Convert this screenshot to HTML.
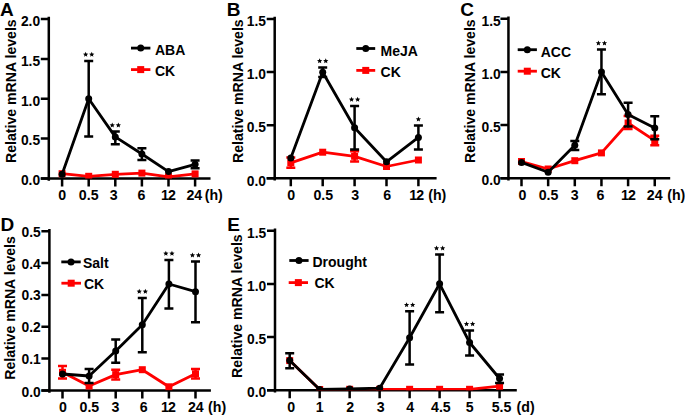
<!DOCTYPE html>
<html><head><meta charset="utf-8"><style>
html,body{margin:0;padding:0;background:#fff;width:685px;height:417px;overflow:hidden}
svg{display:block}
text{font-family:"Liberation Sans", sans-serif;fill:#000}
.t{font-size:14.2px;font-weight:bold}
.ty{font-size:13.8px;font-weight:bold}
.yt{font-size:14.1px;font-weight:bold}
.L{font-size:19px;font-weight:bold}
.lg{font-size:14px;font-weight:bold}
.st{font-size:14px;letter-spacing:0.65px}
</style></head><body>
<svg width="685" height="417" viewBox="0 0 685 417">
<defs><clipPath id="c0"><rect x="48.8" y="0" width="171.7" height="178.4"/></clipPath><clipPath id="c1"><rect x="274.7" y="0" width="171.9" height="178.3"/></clipPath><clipPath id="c2"><rect x="508.45" y="0" width="171.75" height="178.25"/></clipPath><clipPath id="c3"><rect x="49.4" y="0" width="171.5" height="390.45"/></clipPath><clipPath id="c4"><rect x="275" y="0" width="251.8" height="390.25"/></clipPath></defs>
<rect width="685" height="417" fill="#fff"/>
<g><path d="M48.8 16.85V180.65M40.8 178.4H210.5" stroke="#000" stroke-width="2.5" fill="none"/>
<path d="M40.8 178.4H48.8M40.8 138.57H48.8M40.8 98.75H48.8M40.8 58.92H48.8M40.8 19.1H48.8" stroke="#000" stroke-width="2.5"/>
<path d="M62.1 178.4V186.4M88.7 178.4V186.4M115.3 178.4V186.4M141.9 178.4V186.4M168.5 178.4V186.4M195.1 178.4V186.4" stroke="#000" stroke-width="2.5"/>
<text x="40.1" y="185.3" text-anchor="end" class="ty">0.0</text>
<text x="40.1" y="145.47" text-anchor="end" class="ty">0.5</text>
<text x="40.1" y="105.65" text-anchor="end" class="ty">1.0</text>
<text x="40.1" y="65.83" text-anchor="end" class="ty">1.5</text>
<text x="40.1" y="26" text-anchor="end" class="ty">2.0</text>
<text transform="translate(62.1 200.35) scale(1 1.05)" text-anchor="middle" class="t">0</text>
<text transform="translate(88.7 199.65) scale(1 1.05)" text-anchor="middle" class="t">0.5</text>
<text transform="translate(113.7 199.65) scale(1 1.05)" text-anchor="middle" class="t">3</text>
<text transform="translate(141.5 199.65) scale(1 1.05)" text-anchor="middle" class="t">6</text>
<text transform="translate(168.1 199.65) scale(1 1.05)" text-anchor="middle" class="t" letter-spacing="-0.9">12</text>
<text transform="translate(194.3 199.65) scale(1 1.05)" text-anchor="middle" class="t">24</text>
<text x="204.7" y="199.65" class="t">(h)</text>
<text transform="translate(16.4 91.15) rotate(-90)" text-anchor="middle" class="yt">Relative mRNA levels</text>
<text x="0" y="16.2" class="L">A</text>
<path d="M131 48.1H150.4" stroke="#000" stroke-width="2.8"/><circle cx="140.7" cy="48.1" r="3.5"/>
<path d="M131 69.6H150.4" stroke="#ff0000" stroke-width="2.8"/><rect x="137.2" y="66.1" width="7" height="7" fill="#ff0000"/>
<text x="155" y="55" class="lg">ABA</text>
<text x="155" y="76.4" class="lg">CK</text>
<g clip-path="url(#c0)"><polyline points="62.1,173.7 88.7,176.3 115.3,174.3 141.9,173.1 168.5,176.8 195.1,173.9" fill="none" stroke="#ff0000" stroke-width="2.8" stroke-linejoin="round"/><rect x="58.6" y="170.2" width="7" height="7" fill="#ff0000"/><rect x="85.2" y="172.8" width="7" height="7" fill="#ff0000"/><rect x="111.8" y="170.8" width="7" height="7" fill="#ff0000"/><rect x="138.4" y="169.6" width="7" height="7" fill="#ff0000"/><rect x="165" y="173.3" width="7" height="7" fill="#ff0000"/><rect x="191.6" y="170.4" width="7" height="7" fill="#ff0000"/><path d="M88.7 60.9V136.5M84.2 60.9h9M84.2 136.5h9M115.3 131.6V144.2M110.8 131.6h9M110.8 144.2h9M141.9 148.3V160M137.4 148.3h9M137.4 160h9M195.1 160.6V168.3M190.6 160.6h9M190.6 168.3h9" stroke="#000" stroke-width="2.5"/><polyline points="62.1,174.3 88.7,98.7 115.3,136.9 141.9,154 168.5,171.6 195.1,164.3" fill="none" stroke="#000" stroke-width="2.8" stroke-linejoin="round"/><circle cx="62.1" cy="174.3" r="3.5"/><circle cx="88.7" cy="98.7" r="3.5"/><circle cx="115.3" cy="136.9" r="3.5"/><circle cx="141.9" cy="154" r="3.5"/><circle cx="168.5" cy="171.6" r="3.5"/><circle cx="195.1" cy="164.3" r="3.5"/></g>
<path d="M85.65 51.85L86.38 53.59L88.27 53.75L86.84 54.99L87.27 56.82L85.65 55.85L84.03 56.82L84.46 54.99L83.03 53.75L84.92 53.59ZM91.75 51.85L92.48 53.59L94.37 53.75L92.94 54.99L93.37 56.82L91.75 55.85L90.13 56.82L90.56 54.99L89.13 53.75L91.02 53.59Z"/>
<path d="M112.25 122.55L112.98 124.29L114.87 124.45L113.44 125.69L113.87 127.52L112.25 126.55L110.63 127.52L111.06 125.69L109.63 124.45L111.52 124.29ZM118.35 122.55L119.08 124.29L120.97 124.45L119.54 125.69L119.97 127.52L118.35 126.55L116.73 127.52L117.16 125.69L115.73 124.45L117.62 124.29Z"/></g>
<g><path d="M274.7 16.75V180.55M266.7 178.3H436.6" stroke="#000" stroke-width="2.5" fill="none"/>
<path d="M266.7 178.3H274.7M266.7 125.2H274.7M266.7 72.1H274.7M266.7 19H274.7" stroke="#000" stroke-width="2.5"/>
<path d="M290.8 178.3V186.3M322.7 178.3V186.3M354.6 178.3V186.3M386.5 178.3V186.3M418.4 178.3V186.3" stroke="#000" stroke-width="2.5"/>
<text x="266" y="185.5" text-anchor="end" class="ty">0.0</text>
<text x="266" y="132.4" text-anchor="end" class="ty">0.5</text>
<text x="266" y="79.3" text-anchor="end" class="ty">1.0</text>
<text x="266" y="26.2" text-anchor="end" class="ty">1.5</text>
<text transform="translate(291.1 200.25) scale(1 1.05)" text-anchor="middle" class="t">0</text>
<text transform="translate(323.3 199.55) scale(1 1.05)" text-anchor="middle" class="t">0.5</text>
<text transform="translate(355.3 199.55) scale(1 1.05)" text-anchor="middle" class="t">3</text>
<text transform="translate(387.3 199.55) scale(1 1.05)" text-anchor="middle" class="t">6</text>
<text transform="translate(416.2 199.55) scale(1 1.05)" text-anchor="middle" class="t" letter-spacing="-0.9">12</text>
<text x="428.2" y="199.55" class="t">(h)</text>
<text transform="translate(242.6 91.15) rotate(-90)" text-anchor="middle" class="yt">Relative mRNA levels</text>
<text x="226.8" y="16.4" class="L">B</text>
<path d="M356.3 48.5H375.2" stroke="#000" stroke-width="2.8"/><circle cx="365.75" cy="48.5" r="3.5"/>
<path d="M356.3 70.4H375.2" stroke="#ff0000" stroke-width="2.8"/><rect x="362.25" y="66.9" width="7" height="7" fill="#ff0000"/>
<text x="380.6" y="55.9" class="lg">MeJA</text>
<text x="380.6" y="76.6" class="lg">CK</text>
<g clip-path="url(#c1)"><polyline points="290.8,162.9 322.7,152.2 354.6,156.3 386.5,166.5 418.4,160" fill="none" stroke="#ff0000" stroke-width="2.8" stroke-linejoin="round"/><path d="M290.8 157.5V167.8M286.3 157.5h9M286.3 167.8h9M354.6 151.2V161.5M350.1 151.2h9M350.1 161.5h9" stroke="#ff0000" stroke-width="2.5"/><rect x="287.3" y="159.4" width="7" height="7" fill="#ff0000"/><rect x="319.2" y="148.7" width="7" height="7" fill="#ff0000"/><rect x="351.1" y="152.8" width="7" height="7" fill="#ff0000"/><rect x="383" y="163" width="7" height="7" fill="#ff0000"/><rect x="414.9" y="156.5" width="7" height="7" fill="#ff0000"/><path d="M322.7 67.4V77.1M318.2 67.4h9M318.2 77.1h9M354.6 105.9V149.6M350.1 105.9h9M350.1 149.6h9M418.4 125.6V149.5M413.9 125.6h9M413.9 149.5h9" stroke="#000" stroke-width="2.5"/><polyline points="290.8,158 322.7,72.3 354.6,127.8 386.5,161.8 418.4,137.4" fill="none" stroke="#000" stroke-width="2.8" stroke-linejoin="round"/><circle cx="290.8" cy="158" r="3.5"/><circle cx="322.7" cy="72.3" r="3.5"/><circle cx="354.6" cy="127.8" r="3.5"/><circle cx="386.5" cy="161.8" r="3.5"/><circle cx="418.4" cy="137.4" r="3.5"/></g>
<path d="M319.65 58.35L320.38 60.09L322.27 60.25L320.84 61.49L321.27 63.32L319.65 62.35L318.03 63.32L318.46 61.49L317.03 60.25L318.92 60.09ZM325.75 58.35L326.48 60.09L328.37 60.25L326.94 61.49L327.37 63.32L325.75 62.35L324.13 63.32L324.56 61.49L323.13 60.25L325.02 60.09Z"/>
<path d="M351.55 96.85L352.28 98.59L354.17 98.75L352.74 99.99L353.17 101.82L351.55 100.85L349.93 101.82L350.36 99.99L348.93 98.75L350.82 98.59ZM357.65 96.85L358.38 98.59L360.27 98.75L358.84 99.99L359.27 101.82L357.65 100.85L356.03 101.82L356.46 99.99L355.03 98.75L356.92 98.59Z"/>
<path d="M418.4 116.55L419.13 118.29L421.02 118.45L419.59 119.69L420.02 121.52L418.4 120.55L416.78 121.52L417.21 119.69L415.78 118.45L417.67 118.29Z"/></g>
<g><path d="M508.45 16.55V180.5M500.45 178.25H670.2" stroke="#000" stroke-width="2.5" fill="none"/>
<path d="M500.45 178.25H508.45M500.45 125.1H508.45M500.45 71.95H508.45M500.45 18.8H508.45" stroke="#000" stroke-width="2.5"/>
<path d="M521.5 178.25V186.25M548.15 178.25V186.25M574.8 178.25V186.25M601.45 178.25V186.25M628.1 178.25V186.25M654.75 178.25V186.25" stroke="#000" stroke-width="2.5"/>
<text x="500.65" y="185.15" text-anchor="end" class="ty">0.0</text>
<text x="500.65" y="132" text-anchor="end" class="ty">0.5</text>
<text x="500.65" y="78.85" text-anchor="end" class="ty">1.0</text>
<text x="500.65" y="25.7" text-anchor="end" class="ty">1.5</text>
<text transform="translate(522.5 200) scale(1 1.05)" text-anchor="middle" class="t">0</text>
<text transform="translate(548.55 199.5) scale(1 1.05)" text-anchor="middle" class="t">0.5</text>
<text transform="translate(574.6 199.5) scale(1 1.05)" text-anchor="middle" class="t">3</text>
<text transform="translate(600.55 199.5) scale(1 1.05)" text-anchor="middle" class="t">6</text>
<text transform="translate(628.1 199.5) scale(1 1.05)" text-anchor="middle" class="t" letter-spacing="-0.9">12</text>
<text transform="translate(654.75 199.5) scale(1 1.05)" text-anchor="middle" class="t">24</text>
<text x="667.2" y="199.5" class="t">(h)</text>
<text transform="translate(475 91.15) rotate(-90)" text-anchor="middle" class="yt">Relative mRNA levels</text>
<text x="460.2" y="16.2" class="L">C</text>
<path d="M517.7 49.7H536.9" stroke="#000" stroke-width="2.8"/><circle cx="527.3" cy="49.7" r="3.5"/>
<path d="M517.7 71.2H536.9" stroke="#ff0000" stroke-width="2.8"/><rect x="523.8" y="67.7" width="7" height="7" fill="#ff0000"/>
<text x="540.7" y="56.6" class="lg">ACC</text>
<text x="540.7" y="78.1" class="lg">CK</text>
<g clip-path="url(#c2)"><polyline points="521.5,161.5 548.15,169 574.8,160.7 601.45,152.9 628.1,123 654.75,140.6" fill="none" stroke="#ff0000" stroke-width="2.8" stroke-linejoin="round"/><path d="M628.1 116V129M623.6 116h9M623.6 129h9M654.75 135.7V145.3M650.25 135.7h9M650.25 145.3h9" stroke="#ff0000" stroke-width="2.5"/><rect x="518" y="158" width="7" height="7" fill="#ff0000"/><rect x="544.65" y="165.5" width="7" height="7" fill="#ff0000"/><rect x="571.3" y="157.2" width="7" height="7" fill="#ff0000"/><rect x="597.95" y="149.4" width="7" height="7" fill="#ff0000"/><rect x="624.6" y="119.5" width="7" height="7" fill="#ff0000"/><rect x="651.25" y="137.1" width="7" height="7" fill="#ff0000"/><path d="M574.8 141V150.1M570.3 141h9M570.3 150.1h9M601.45 49.5V94.2M596.95 49.5h9M596.95 94.2h9M628.1 102.7V126.4M623.6 102.7h9M623.6 126.4h9M654.75 116.3V139.3M650.25 116.3h9M650.25 139.3h9" stroke="#000" stroke-width="2.5"/><polyline points="521.5,162.4 548.15,172.2 574.8,145.3 601.45,71.9 628.1,114.5 654.75,128" fill="none" stroke="#000" stroke-width="2.8" stroke-linejoin="round"/><circle cx="521.5" cy="162.4" r="3.5"/><circle cx="548.15" cy="172.2" r="3.5"/><circle cx="574.8" cy="145.3" r="3.5"/><circle cx="601.45" cy="71.9" r="3.5"/><circle cx="628.1" cy="114.5" r="3.5"/><circle cx="654.75" cy="128" r="3.5"/></g>
<path d="M598.4 40.45L599.13 42.19L601.02 42.35L599.59 43.59L600.02 45.42L598.4 44.45L596.78 45.42L597.21 43.59L595.78 42.35L597.67 42.19ZM604.5 40.45L605.23 42.19L607.12 42.35L605.69 43.59L606.12 45.42L604.5 44.45L602.88 45.42L603.31 43.59L601.88 42.35L603.77 42.19Z"/></g>
<g><path d="M49.4 228.95V392.7M41.4 390.45H210.9" stroke="#000" stroke-width="2.5" fill="none"/>
<path d="M41.4 390.45H49.4M41.4 358.6H49.4M41.4 326.75H49.4M41.4 294.9H49.4M41.4 263.05H49.4M41.4 231.2H49.4" stroke="#000" stroke-width="2.5"/>
<path d="M62.5 390.45V398.45M89.1 390.45V398.45M115.7 390.45V398.45M142.3 390.45V398.45M168.9 390.45V398.45M195.5 390.45V398.45" stroke="#000" stroke-width="2.5"/>
<text x="40.7" y="397.35" text-anchor="end" class="ty">0.0</text>
<text x="40.7" y="364.1" text-anchor="end" class="ty">0.1</text>
<text x="40.7" y="332.25" text-anchor="end" class="ty">0.2</text>
<text x="40.7" y="300.4" text-anchor="end" class="ty">0.3</text>
<text x="40.7" y="268.55" text-anchor="end" class="ty">0.4</text>
<text x="40.7" y="236.9" text-anchor="end" class="ty">0.5</text>
<text transform="translate(63 411.7) scale(1 1.05)" text-anchor="middle" class="t">0</text>
<text transform="translate(89.4 411.7) scale(1 1.05)" text-anchor="middle" class="t">0.5</text>
<text transform="translate(115.5 411.7) scale(1 1.05)" text-anchor="middle" class="t">3</text>
<text transform="translate(143.8 411.7) scale(1 1.05)" text-anchor="middle" class="t">6</text>
<text transform="translate(168 411.7) scale(1 1.05)" text-anchor="middle" class="t" letter-spacing="-0.9">12</text>
<text transform="translate(195.8 411.7) scale(1 1.05)" text-anchor="middle" class="t">24</text>
<text x="208" y="411.7" class="t">(h)</text>
<text transform="translate(14.5 307.95) rotate(-90)" text-anchor="middle" class="yt">Relative mRNA levels</text>
<text x="0.6" y="231.4" class="L">D</text>
<path d="M61.3 261.9H80.7" stroke="#000" stroke-width="2.8"/><circle cx="71" cy="261.9" r="3.5"/>
<path d="M61.4 283.2H81" stroke="#ff0000" stroke-width="2.8"/><rect x="67.7" y="279.7" width="7" height="7" fill="#ff0000"/>
<text x="83" y="267.6" class="lg">Salt</text>
<text x="83.9" y="288.8" class="lg">CK</text>
<g clip-path="url(#c3)"><polyline points="62.5,372.3 89.1,386 115.7,374.6 142.3,369.7 168.9,386.8 195.5,373.8" fill="none" stroke="#ff0000" stroke-width="2.8" stroke-linejoin="round"/><path d="M62.5 365.9V378.6M58 365.9h9M58 378.6h9M115.7 369.8V379.6M111.2 369.8h9M111.2 379.6h9M195.5 368.9V378.5M191 368.9h9M191 378.5h9" stroke="#ff0000" stroke-width="2.5"/><rect x="59" y="368.8" width="7" height="7" fill="#ff0000"/><rect x="85.6" y="382.5" width="7" height="7" fill="#ff0000"/><rect x="112.2" y="371.1" width="7" height="7" fill="#ff0000"/><rect x="138.8" y="366.2" width="7" height="7" fill="#ff0000"/><rect x="165.4" y="383.3" width="7" height="7" fill="#ff0000"/><rect x="192" y="370.3" width="7" height="7" fill="#ff0000"/><path d="M89.1 369V383M84.6 369h9M84.6 383h9M115.7 339.4V362.7M111.2 339.4h9M111.2 362.7h9M142.3 297.9V352.3M137.8 297.9h9M137.8 352.3h9M168.9 259.9V308.4M164.4 259.9h9M164.4 308.4h9M195.5 261.6V322.2M191 261.6h9M191 322.2h9" stroke="#000" stroke-width="2.5"/><polyline points="62.5,374 89.1,376 115.7,351 142.3,324.7 168.9,284 195.5,291.7" fill="none" stroke="#000" stroke-width="2.8" stroke-linejoin="round"/><circle cx="62.5" cy="374" r="3.5"/><circle cx="89.1" cy="376" r="3.5"/><circle cx="115.7" cy="351" r="3.5"/><circle cx="142.3" cy="324.7" r="3.5"/><circle cx="168.9" cy="284" r="3.5"/><circle cx="195.5" cy="291.7" r="3.5"/></g>
<path d="M139.25 288.85L139.98 290.59L141.87 290.75L140.44 291.99L140.87 293.82L139.25 292.85L137.63 293.82L138.06 291.99L136.63 290.75L138.52 290.59ZM145.35 288.85L146.08 290.59L147.97 290.75L146.54 291.99L146.97 293.82L145.35 292.85L143.73 293.82L144.16 291.99L142.73 290.75L144.62 290.59Z"/>
<path d="M165.85 250.85L166.58 252.59L168.47 252.75L167.04 253.99L167.47 255.82L165.85 254.85L164.23 255.82L164.66 253.99L163.23 252.75L165.12 252.59ZM171.95 250.85L172.68 252.59L174.57 252.75L173.14 253.99L173.57 255.82L171.95 254.85L170.33 255.82L170.76 253.99L169.33 252.75L171.22 252.59Z"/>
<path d="M192.45 252.55L193.18 254.29L195.07 254.45L193.64 255.69L194.07 257.52L192.45 256.55L190.83 257.52L191.26 255.69L189.83 254.45L191.72 254.29ZM198.55 252.55L199.28 254.29L201.17 254.45L199.74 255.69L200.17 257.52L198.55 256.55L196.93 257.52L197.36 255.69L195.93 254.45L197.82 254.29Z"/></g>
<g><path d="M275 228.5V392.5M267 390.25H516.8" stroke="#000" stroke-width="2.5" fill="none"/>
<path d="M267 390.25H275M267 337.08H275M267 283.92H275M267 230.75H275" stroke="#000" stroke-width="2.5"/>
<path d="M289.7 390.25V398.25M319.68 390.25V398.25M349.66 390.25V398.25M379.64 390.25V398.25M409.62 390.25V398.25M439.6 390.25V398.25M469.58 390.25V398.25M499.56 390.25V398.25" stroke="#000" stroke-width="2.5"/>
<text x="266.3" y="397.45" text-anchor="end" class="ty">0.0</text>
<text x="266.3" y="344.28" text-anchor="end" class="ty">0.5</text>
<text x="266.3" y="291.12" text-anchor="end" class="ty">1.0</text>
<text x="266.3" y="237.95" text-anchor="end" class="ty">1.5</text>
<text transform="translate(291.2 411.5) scale(1 1.05)" text-anchor="middle" class="t">0</text>
<text transform="translate(319.68 411.5) scale(1 1.05)" text-anchor="middle" class="t">1</text>
<text transform="translate(350.16 411.5) scale(1 1.05)" text-anchor="middle" class="t">2</text>
<text transform="translate(380.74 411.5) scale(1 1.05)" text-anchor="middle" class="t">3</text>
<text transform="translate(410.22 411.5) scale(1 1.05)" text-anchor="middle" class="t">4</text>
<text transform="translate(440.9 411.5) scale(1 1.05)" text-anchor="middle" class="t">4.5</text>
<text transform="translate(469.58 411.5) scale(1 1.05)" text-anchor="middle" class="t">5</text>
<text transform="translate(501.56 411.5) scale(1 1.05)" text-anchor="middle" class="t">5.5</text>
<text x="516.6" y="411.5" class="t">(d)</text>
<text transform="translate(242.2 306.1) rotate(-90)" text-anchor="middle" class="yt">Relative mRNA levels</text>
<text x="227.2" y="231.2" class="L">E</text>
<path d="M289.3 260.5H308.6" stroke="#000" stroke-width="2.8"/><circle cx="298.95" cy="260.5" r="3.5"/>
<path d="M288.7 282.6H308" stroke="#ff0000" stroke-width="2.8"/><rect x="294.85" y="279.1" width="7" height="7" fill="#ff0000"/>
<text x="312.5" y="266.9" class="lg">Drought</text>
<text x="314.5" y="287.9" class="lg">CK</text>
<g clip-path="url(#c4)"><polyline points="289.7,360.6 319.68,389.5 349.66,389.3 379.64,389.3 409.62,389.3 439.6,389.3 469.58,389.3 499.56,386.2" fill="none" stroke="#ff0000" stroke-width="2.8" stroke-linejoin="round"/><rect x="286.2" y="357.1" width="7" height="7" fill="#ff0000"/><rect x="316.18" y="386" width="7" height="7" fill="#ff0000"/><rect x="346.16" y="385.8" width="7" height="7" fill="#ff0000"/><rect x="376.14" y="385.8" width="7" height="7" fill="#ff0000"/><rect x="406.12" y="385.8" width="7" height="7" fill="#ff0000"/><rect x="436.1" y="385.8" width="7" height="7" fill="#ff0000"/><rect x="466.08" y="385.8" width="7" height="7" fill="#ff0000"/><rect x="496.06" y="382.7" width="7" height="7" fill="#ff0000"/><path d="M289.7 353.2V368.2M285.2 353.2h9M285.2 368.2h9M409.62 311.2V364.5M405.12 311.2h9M405.12 364.5h9M439.6 254.6V312.3M435.1 254.6h9M435.1 312.3h9M469.58 330.4V355.6M465.08 330.4h9M465.08 355.6h9M499.56 374.5V383M495.06 374.5h9M495.06 383h9" stroke="#000" stroke-width="2.5"/><polyline points="289.7,360.5 319.68,389.4 349.66,389 379.64,388.2 409.62,337.8 439.6,283.8 469.58,342.5 499.56,378.5" fill="none" stroke="#000" stroke-width="2.8" stroke-linejoin="round"/><circle cx="289.7" cy="360.5" r="3.5"/><circle cx="319.68" cy="389.4" r="3.5"/><circle cx="349.66" cy="389" r="3.5"/><circle cx="379.64" cy="388.2" r="3.5"/><circle cx="409.62" cy="337.8" r="3.5"/><circle cx="439.6" cy="283.8" r="3.5"/><circle cx="469.58" cy="342.5" r="3.5"/><circle cx="499.56" cy="378.5" r="3.5"/></g>
<path d="M406.57 302.15L407.3 303.89L409.19 304.05L407.76 305.29L408.19 307.12L406.57 306.15L404.95 307.12L405.38 305.29L403.95 304.05L405.84 303.89ZM412.67 302.15L413.4 303.89L415.29 304.05L413.86 305.29L414.29 307.12L412.67 306.15L411.05 307.12L411.48 305.29L410.05 304.05L411.94 303.89Z"/>
<path d="M436.55 245.55L437.28 247.29L439.17 247.45L437.74 248.69L438.17 250.52L436.55 249.55L434.93 250.52L435.36 248.69L433.93 247.45L435.82 247.29ZM442.65 245.55L443.38 247.29L445.27 247.45L443.84 248.69L444.27 250.52L442.65 249.55L441.03 250.52L441.46 248.69L440.03 247.45L441.92 247.29Z"/>
<path d="M466.53 321.35L467.26 323.09L469.15 323.25L467.72 324.49L468.15 326.32L466.53 325.35L464.91 326.32L465.34 324.49L463.91 323.25L465.8 323.09ZM472.63 321.35L473.36 323.09L475.25 323.25L473.82 324.49L474.25 326.32L472.63 325.35L471.01 326.32L471.44 324.49L470.01 323.25L471.9 323.09Z"/></g>
</svg>
</body></html>
